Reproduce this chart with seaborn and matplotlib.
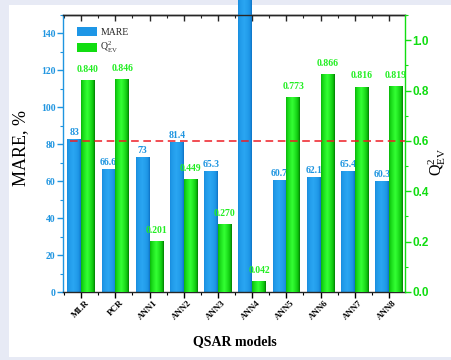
import numpy as np
import pandas as pd
import matplotlib
matplotlib.use("Agg")
import matplotlib.pyplot as plt
import matplotlib.transforms as mtransforms
import seaborn as sns
from matplotlib.colors import LinearSegmentedColormap
from matplotlib.patches import Patch, Rectangle
from matplotlib.ticker import MultipleLocator, FixedLocator

# ---- data -------------------------------------------------------------
models = ["MLR", "PCR", "ANN1", "ANN2", "ANN3", "ANN4", "ANN5", "ANN6", "ANN7", "ANN8"]
mare = [83.0, 66.6, 73.0, 81.4, 65.3, 165.0, 60.7, 62.1, 65.4, 60.3]
mare_text = ["83", "66.6", "73", "81.4", "65.3", "", "60.7", "62.1", "65.4", "60.3"]
q2_ev = [0.840, 0.846, 0.201, 0.449, 0.270, 0.042, 0.773, 0.866, 0.816, 0.819]
q2_text = ["0.840", "0.846", "0.201", "0.449", "0.270", "0.042", "0.773", "0.866", "0.816", "0.819"]
q2_threshold = 0.6

BLUE = "#1e96e6"
BLUE_TXT = "#1f95e0"
GREEN = "#11dd11"
GREEN_TXT = "#22ee22"
RED = "#ee1c24"

sns.set_theme(style="ticks")
plt.rcParams["font.family"] = ["Liberation Serif", "DejaVu Serif"]
plt.rcParams["mathtext.fontset"] = "stix"
plt.rcParams["axes.linewidth"] = 1.0

fig = plt.figure(figsize=(4.51, 3.60), dpi=100)
fig.patch.set_facecolor("#e7eaf5")
fig.patches.append(Rectangle((9 / 451, 3 / 360), 1, 352 / 360, transform=fig.transFigure,
                             facecolor="white", edgecolor="none", zorder=-10))

ax1 = fig.add_axes([63 / 451, 68 / 360, 342 / 451, 277 / 360])
ax1.set_facecolor("white")
ax2 = ax1.twinx()

hue_order = ["MARE", "Q2"]
palette = {"MARE": BLUE, "Q2": GREEN}
df_mare = pd.DataFrame({"model": models * 2,
                        "metric": ["MARE"] * len(models) + ["Q2"] * len(models),
                        "value": mare + [np.nan] * len(models)})
df_q2 = pd.DataFrame({"model": models * 2,
                      "metric": ["MARE"] * len(models) + ["Q2"] * len(models),
                      "value": [np.nan] * len(models) + q2_ev})

sns.barplot(data=df_mare, x="model", y="value", hue="metric", hue_order=hue_order,
            palette=palette, order=models, width=0.8, gap=0, errorbar=None,
            legend=False, ax=ax1, linewidth=0, saturation=1)
sns.barplot(data=df_q2, x="model", y="value", hue="metric", hue_order=hue_order,
            palette=palette, order=models, width=0.8, gap=0, errorbar=None,
            legend=False, ax=ax2, linewidth=0, saturation=1)

# cylinder-like shading for each bar
blue_cmap = LinearSegmentedColormap.from_list("b", ["#0a6cc0", "#1e96e6", "#2aa6f2"])
green_cmap = LinearSegmentedColormap.from_list("g", ["#006f00", "#10cc10", "#33ff33"])
xs = np.linspace(0, 1, 64)
profile = np.clip(1 - np.abs(xs - 0.45) / 0.55, 0, 1) ** 0.6
grad = profile[np.newaxis, :]


def shade(ax, cmap):
    for p in list(ax.patches):
        h = p.get_height()
        if not np.isfinite(h) or h <= 0:
            continue
        x0, w = p.get_x(), p.get_width()
        im = ax.imshow(grad, extent=[x0, x0 + w, 0, h], cmap=cmap, aspect="auto",
                       interpolation="bilinear", zorder=2, vmin=0, vmax=1)
        im.set_clip_path(p)


shade(ax1, blue_cmap)
shade(ax2, green_cmap)

ax1.set_xlim(-0.53, 9.47)
ax1.set_ylim(0, 150)
ax2.set_ylim(0, 1.1)

# value labels
for p, txt in zip([q for q in ax1.patches if np.isfinite(q.get_height()) and q.get_height() > 0], mare_text):
    if txt and p.get_height() < 150:
        ax1.annotate(txt, (p.get_x() + p.get_width() / 2, p.get_height()),
                     xytext=(0, 1.5), textcoords="offset points", ha="center", va="bottom",
                     fontsize=7, fontweight="bold", color=BLUE_TXT, zorder=5)
for p, txt in zip([q for q in ax2.patches if np.isfinite(q.get_height()) and q.get_height() > 0], q2_text):
    ax2.annotate(txt, (p.get_x() + p.get_width() / 2, p.get_height()),
                 xytext=(0, 4.5), textcoords="offset points", ha="center", va="bottom",
                 fontsize=7, fontweight="bold", color=GREEN_TXT, zorder=5)

# threshold line
ax2.axhline(q2_threshold, xmin=0.02, xmax=1.0, color=RED, lw=1.1,
            linestyle=(0, (5, 3)), zorder=6)

# axes styling
ax1.spines["left"].set_color(BLUE_TXT)
ax1.spines["right"].set_visible(False)
ax2.spines["right"].set_color(GREEN)
for s in ["left", "top", "bottom"]:
    ax2.spines[s].set_visible(False)

ax1.yaxis.set_major_locator(MultipleLocator(20))
ax1.yaxis.set_minor_locator(MultipleLocator(10))
ax1.tick_params(axis="y", which="major", colors=BLUE_TXT, length=4, width=1, direction="out",
                labelsize=7, pad=1.5)
ax1.tick_params(axis="y", which="minor", colors=BLUE_TXT, length=2.5, width=0.8, direction="out")
for lab in ax1.get_yticklabels():
    lab.set_fontweight("bold")

ax2.yaxis.set_major_locator(MultipleLocator(0.2))
ax2.yaxis.set_minor_locator(MultipleLocator(0.1))
ax2.set_yticks([0.0, 0.2, 0.4, 0.6, 0.8, 1.0])
ax2.set_yticklabels(["0.0", "0.2", "0.4", "0.6", "0.8", "1.0"],
                    family=["Liberation Sans", "DejaVu Sans"], fontweight="bold", fontsize=8.5)
ax2.tick_params(axis="y", which="major", colors=GREEN, length=4, width=1, direction="out", pad=1.5)
ax2.tick_params(axis="y", which="minor", colors=GREEN, length=2.5, width=0.8, direction="out")

ax1.xaxis.set_minor_locator(FixedLocator(np.arange(-0.5, 10, 1)))
ax1.tick_params(axis="x", which="major", colors="black", length=4, width=1, direction="out",
                labelsize=6.5, pad=1)
ax1.tick_params(axis="x", which="minor", length=2.5, width=0.8, direction="out", color="black")
offset = mtransforms.ScaledTranslation(4 / 100, 0, fig.dpi_scale_trans)
for lab in ax1.get_xticklabels():
    lab.set_rotation(45)
    lab.set_ha("right")
    lab.set_rotation_mode("anchor")
    lab.set_fontweight("bold")
    lab.set_transform(lab.get_transform() + offset)

top = ax1.secondary_xaxis("top")
top.set_xticks(range(len(models)))
top.xaxis.set_minor_locator(FixedLocator(np.arange(-0.5, 10, 1)))
top.tick_params(axis="x", which="major", direction="in", length=4, width=1, labeltop=False)
top.tick_params(axis="x", which="minor", direction="in", length=2.5, width=0.8)
top.spines["top"].set_color("black")

ax1.set_xlabel("QSAR models", fontsize=10, fontweight="bold", color="black")
ax1.xaxis.set_label_coords(0.503, -0.155)
ax1.set_ylabel("MARE, %", fontsize=13, color="black")
ax1.yaxis.set_label_coords(-0.10, 0.52)
ax2.set_ylabel(r"$\mathregular{Q^2_{EV}}$", fontsize=11.5, color="black", rotation=90)
ax2.yaxis.set_label_coords(1.062, 0.47)

handles = [Patch(facecolor=BLUE, edgecolor="none", label="MARE"),
           Patch(facecolor=GREEN, edgecolor="none", label=r"$\mathregular{Q^2_{EV}}$")]
ax1.legend(handles=handles, loc="upper left", bbox_to_anchor=(0.041, 0.955), frameon=False,
           fontsize=7, handlelength=2.1, handleheight=0.95, handletextpad=0.3,
           labelspacing=0.35, borderpad=0, borderaxespad=0)

ax1.set_zorder(ax2.get_zorder() - 1)
ax2.patch.set_visible(False)

fig.savefig("out.png", dpi=100, facecolor=fig.get_facecolor())
